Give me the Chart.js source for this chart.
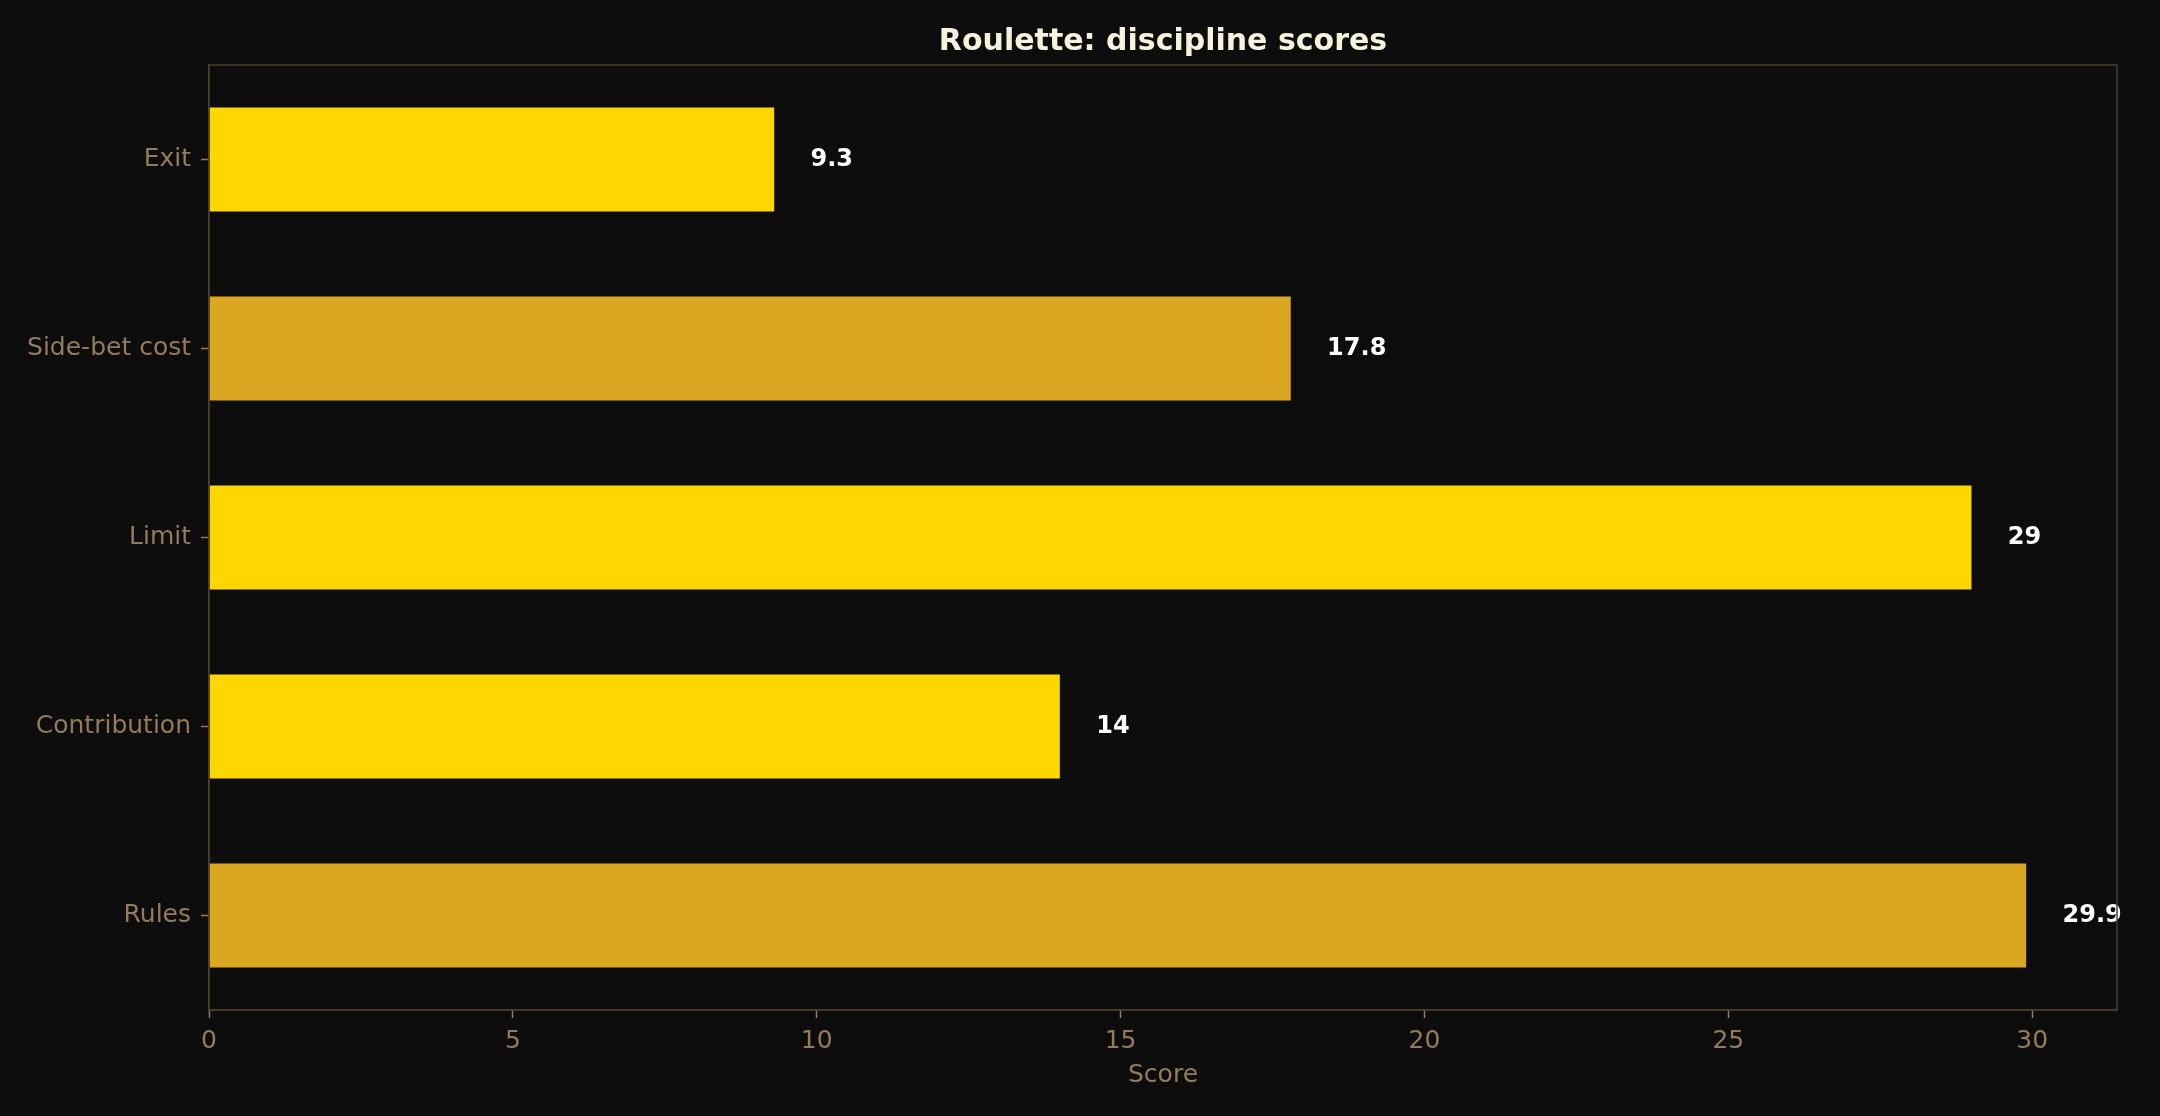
<!DOCTYPE html>
<html>
<head>
<meta charset="utf-8">
<script src="https://cdn.jsdelivr.net/npm/chart.js@4"></script>
<style>
  html, body { margin: 0; padding: 0; background: #0d0d0d; }
  #wrap { width: 2160px; height: 1116px; }
</style>
</head>
<body>
<div id="wrap"><canvas id="chart"></canvas></div>
<script>
// data, top to bottom as in the picture
const categories = ['Exit', 'Side-bet cost', 'Limit', 'Contribution', 'Rules'];
const scores = [9.3, 17.8, 29, 14, 29.9];
const barColors = ['#FFD700', '#DAA520', '#FFD700', '#FFD700', '#DAA520'];
const xTicks = [0, 5, 10, 15, 20, 25, 30];
const chartTitle = 'Roulette: discipline scores';

const spineColor = '#4a3f2b';
const tickColor = '#937b5c';
const font = 'DejaVu Sans';
const maxScore = Math.max(...scores);

// box round the plot area, title centred over it
const frame = {
    id: 'frame',
    afterDraw(chart) {
        const a = chart.chartArea;
        const ctx = chart.ctx;
        ctx.save();
        ctx.strokeStyle = spineColor;
        ctx.lineWidth = 1.5;
        ctx.strokeRect(a.left, a.top, a.right - a.left, a.bottom - a.top);
        ctx.fillStyle = '#f5f3dc';
        ctx.font = 'bold 30px "' + font + '"';
        ctx.textAlign = 'center';
        ctx.textBaseline = 'alphabetic';
        ctx.fillText(chartTitle, (a.left + a.right) / 2, a.top - 15);
        ctx.restore();
    }
};

// numbers next to bars
const valueLabels = {
    id: 'valueLabels',
    afterDatasetsDraw(chart) {
        const ctx = chart.ctx;
        const x = chart.scales.x;
        const y = chart.scales.y;
        ctx.save();
        ctx.fillStyle = '#ffffff';
        ctx.font = 'bold 24px "' + font + '"';
        ctx.textAlign = 'left';
        ctx.textBaseline = 'middle';
        scores.forEach((v, i) => {
            ctx.fillText(String(v), x.getPixelForValue(v + maxScore * 0.02), y.getPixelForValue(i));
        });
        ctx.restore();
    }
};

new Chart(document.querySelector('#chart'), {
    type: 'bar',
    data: {
        labels: categories,
        datasets: [{
            data: scores,
            backgroundColor: barColors,
            borderWidth: 0,
            barPercentage: 0.55,
            categoryPercentage: 1
        }]
    },
    options: {
        indexAxis: 'y',
        responsive: true,
        maintainAspectRatio: false,
        animation: false,
        layout: { padding: { left: 0, right: 43, top: 65, bottom: 0 } },
        plugins: {
            legend: { display: false },
            tooltip: { enabled: false },
            title: { display: false }
        },
        scales: {
            x: {
                min: 0,
                max: maxScore * 1.05,
                afterBuildTicks: (s) => { s.ticks = xTicks.map(v => ({ value: v })); },
                afterFit: (s) => { s.height = 106; },
                ticks: {
                    color: tickColor,
                    font: { family: font, size: 25 },
                    padding: 8,
                    maxRotation: 0
                },
                grid: { drawOnChartArea: false, drawTicks: true, tickLength: 8, color: spineColor, tickColor: tickColor, tickWidth: 1.5 },
                border: { display: true, color: spineColor, width: 1.5 },
                title: {
                    display: true,
                    text: 'Score',
                    color: tickColor,
                    font: { family: font, size: 25 },
                    padding: { top: 5, bottom: 26 }
                }
            },
            y: {
                afterFit: (s) => { s.width = 209; },
                ticks: {
                    color: tickColor,
                    font: { family: font, size: 25 },
                    padding: 10
                },
                grid: { offset: false, drawOnChartArea: false, drawTicks: true, tickLength: 8, color: spineColor, tickColor: tickColor, tickWidth: 1.5 },
                border: { display: true, color: spineColor, width: 1.5 }
            }
        }
    },
    plugins: [frame, valueLabels]
});
</script>
</body>
</html>
